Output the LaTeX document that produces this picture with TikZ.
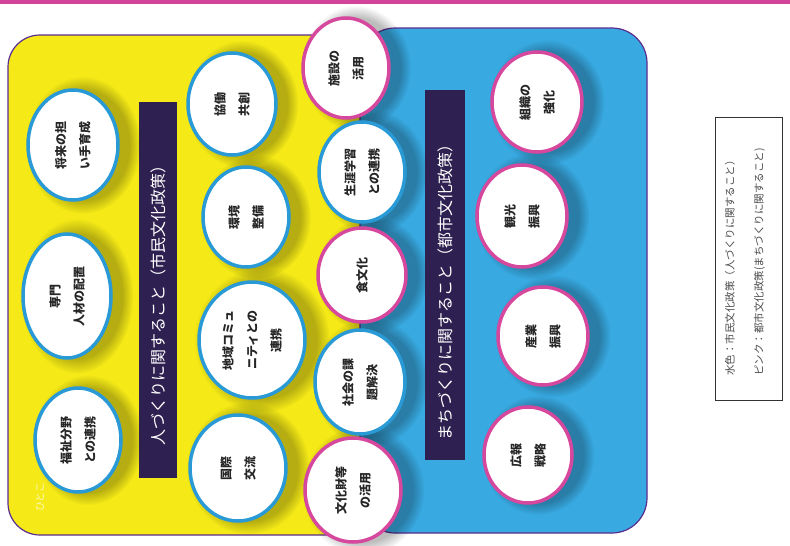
\documentclass[tikz,border=0pt]{standalone}
\usepackage{fontspec}
\newfontfamily\jp{Noto Sans CJK JP}
\usetikzlibrary{shapes.geometric,fadings}
\definecolor{yel}{HTML}{F5EA17}
\definecolor{sky}{HTML}{38A9E1}
\definecolor{cyanline}{HTML}{2A9AD6}
\definecolor{pinkline}{HTML}{D6489D}
\definecolor{framec}{HTML}{5A2D91}
\definecolor{barc}{HTML}{2E2050}
\definecolor{topc}{HTML}{D2449A}
\pgfdeclarelayer{bg}
\pgfdeclarelayer{shade}
\pgfsetlayers{bg,shade,main}
\newcommand\bubble[7]{%
  \begin{pgfonlayer}{shade}
    \fill[black,opacity=.26,path fading=circle with fuzzy edge 20 percent]
      (#2+10,#3) ellipse [x radius=#4*1.28pt, y radius=#5*1.25pt];
  \end{pgfonlayer}
  \node[bub, draw=#6, minimum height=#4*2pt, minimum width=#5*2pt] (#1) at (#2,#3) {#7};%
}
\begin{document}
\begin{tikzpicture}[x=1pt,y=-1pt,
  bub/.style={ellipse, fill=white, line width=3.5pt, inner sep=0pt, outer sep=0pt,
    rotate=90, align=center, text=black!85,
    font=\jp\bfseries\fontsize{12}{24}\selectfont},
  barbox/.style={fill=barc, draw=none, rotate=90, inner sep=0pt},
  bartext/.style={rotate=90, text=white, inner sep=0pt, font=\jp\fontsize{16}{16}\selectfont},
  region/.style={draw=framec, line width=1.2pt},
]
\useasboundingbox (0,0) rectangle (790,546);
\begin{pgfonlayer}{bg}
  \fill[white] (0,0) rectangle (790,546);
  \fill[topc] (0,0) rectangle (790,3.5);
  \draw[region, fill=yel, rounded corners=32pt] (8,35) rectangle (385,535);
  \draw[region, fill=sky, rounded corners=35pt] (360,28) rectangle (647,533);
\end{pgfonlayer}

% title bars
\node[barbox, minimum width=376pt, minimum height=38pt] (lbar) at (158,290) {};
\node[bartext] (ltext) at (158,301) {人づくりに関すること（市民文化政策）};
\node[barbox, minimum width=370pt, minimum height=40pt] (rbar) at (445,275) {};
\node[bartext] (rtext) at (445,288) {まちづくりに関すること（都市文化政策）};

% yellow region bubbles
\bubble{c1}{73}{145}{45}{55}{cyanline}{将来の担\\い手育成}
\bubble{c2}{67}{296}{44}{62}{cyanline}{専門\\人材の配置}
\bubble{c3}{78}{440}{43}{52}{cyanline}{福祉分野\\との連携}
\bubble{c4}{232}{104}{44}{51}{cyanline}{協働\\共創}
\bubble{c5}{246}{217}{43}{50}{cyanline}{環境\\整備}
\bubble{c6}{252}{340}{53}{58}{cyanline}{地域コミュ\\ニティとの\\連携}
\bubble{c7}{238}{468}{48}{53}{cyanline}{国際\\交流}
% boundary bubbles
\bubble{p8}{346}{68}{43}{50}{pinkline}{施設の\\活用}
\bubble{c9}{362}{172}{43}{50}{cyanline}{生涯学習\\との連携}
\bubble{p10}{362}{275}{44}{47}{pinkline}{食文化}
\bubble{c11}{360}{382}{45}{52}{cyanline}{社会の課\\題解決}
\bubble{p12}{353}{490}{48}{52}{pinkline}{文化財等\\の活用}
% blue region bubbles
\bubble{p13}{537}{102}{45}{50}{pinkline}{組織の\\強化}
\bubble{p14}{522}{216}{45}{51}{pinkline}{観光\\振興}
\bubble{p15}{543}{336}{45}{49}{pinkline}{産業\\振興}
\bubble{p16}{528}{455}{44}{48}{pinkline}{広報\\戦略}

% faint text
\node[rotate=90, text=white, opacity=.7, inner sep=0pt, font=\jp\fontsize{10}{10}\selectfont] (hito) at (40,497) {ひとこ};

% legend
\node[draw=black!80, line width=0.8pt, rotate=90, minimum width=283pt, minimum height=67pt, inner sep=0pt] (legend) at (748.5,258.5) {};
\node[rotate=90, align=left, inner sep=0pt, text=black!70, font=\jp\fontsize{10.5}{29}\selectfont] (legtext) at (745,262)
  {水色：市民文化政策（人づくりに関すること）\\ピンク：都市文化政策(まちづくりに関すること)};
\end{tikzpicture}
\end{document}
